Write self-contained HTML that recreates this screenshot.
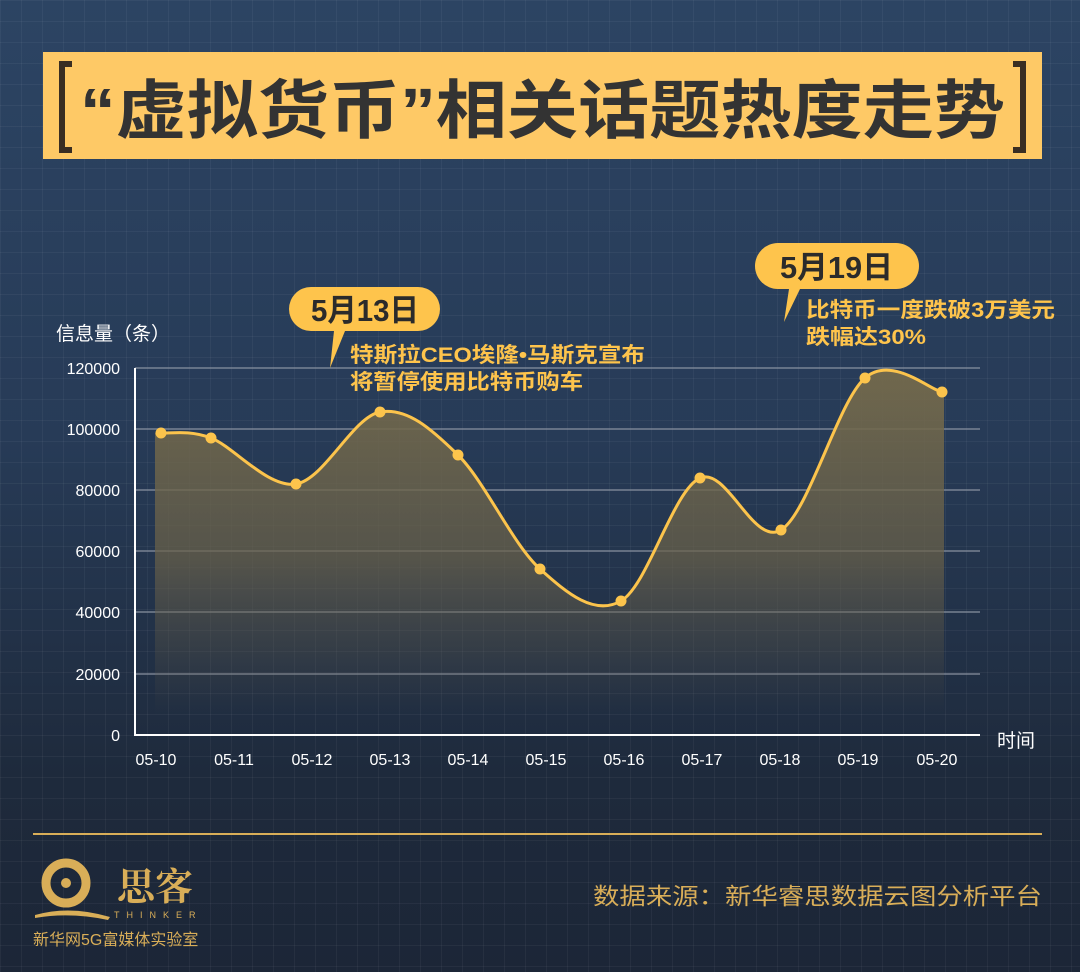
<!DOCTYPE html>
<html><head><meta charset="utf-8"><style>
body{margin:0;width:1080px;height:972px;overflow:hidden;font-family:"Liberation Sans","Noto Sans CJK SC",sans-serif;}
#bg{position:absolute;left:0;top:0;width:1080px;height:972px;background:linear-gradient(180deg,#2c4463 0%,#273b57 45%,#1e2a3c 80%,#1c2637 100%);}
#grid{position:absolute;left:0;top:0;width:1080px;height:972px;background-image:linear-gradient(rgba(255,255,255,0.045) 1px,transparent 1px),linear-gradient(90deg,rgba(255,255,255,0.045) 1px,transparent 1px);background-size:21px 21px;}
</style></head><body>
<div id="bg"></div><div id="grid"></div>
<svg width="1080" height="972" style="position:absolute;left:0;top:0" xmlns="http://www.w3.org/2000/svg">
<defs>
<linearGradient id="af" x1="0" y1="0" x2="0" y2="1">
<stop offset="0" stop-color="#746a4c" stop-opacity="0.95"/>
<stop offset="0.55" stop-color="#6a6149" stop-opacity="0.7"/>
<stop offset="1" stop-color="#5a5446" stop-opacity="0"/>
</linearGradient>
</defs>
<rect x="43" y="52" width="999" height="107" fill="#fec966"/>
<path d="M72 64 H62 V150 H72" fill="none" stroke="#3a2e22" stroke-width="6"/>
<path d="M1013 64 H1023 V150 H1013" fill="none" stroke="#3a2e22" stroke-width="6"/>
<text x="80" y="133" textLength="925" lengthAdjust="spacingAndGlyphs" font-size="64" font-weight="bold" fill="#333">“虚拟货币”相关话题热度走势</text>

<g stroke="#8d96a4" stroke-width="1.5" opacity="0.8">
<line x1="135" y1="368" x2="980" y2="368"/><line x1="135" y1="429" x2="980" y2="429"/>
<line x1="135" y1="490" x2="980" y2="490"/><line x1="135" y1="551" x2="980" y2="551"/>
<line x1="135" y1="612" x2="980" y2="612"/><line x1="135" y1="674" x2="980" y2="674"/>
</g>
<line x1="135" y1="368" x2="135" y2="736" stroke="#fff" stroke-width="2"/>
<line x1="134" y1="735" x2="980" y2="735" stroke="#fff" stroke-width="2"/>
<g font-size="16" fill="#fff" text-anchor="end">
<text x="120" y="374">120000</text><text x="120" y="435">100000</text><text x="120" y="496">80000</text>
<text x="120" y="557">60000</text><text x="120" y="618">40000</text><text x="120" y="680">20000</text><text x="120" y="741">0</text>
</g>
<text x="56" y="340" font-size="19" fill="#fff">信息量（条）</text>
<text x="997" y="747" font-size="19" fill="#fff">时间</text>
<g font-size="16" fill="#fff" text-anchor="middle">
<text x="156" y="765">05-10</text><text x="234" y="765">05-11</text><text x="312" y="765">05-12</text>
<text x="390" y="765">05-13</text><text x="468" y="765">05-14</text><text x="546" y="765">05-15</text>
<text x="624" y="765">05-16</text><text x="702" y="765">05-17</text><text x="780" y="765">05-18</text>
<text x="858" y="765">05-19</text><text x="937" y="765">05-20</text>
</g>
<path id="area" fill="url(#af)"/>
<path id="line" fill="none" stroke="#fcc44c" stroke-width="3"/>
<g id="dots" fill="#fcc44c"></g>

<path d="M311 287 H418 A22 22 0 0 1 418 331 H345 L330 368 L334 331 H311 A22 22 0 0 1 311 287Z" fill="#fec44c"/>
<text x="311" y="321" textLength="108" lengthAdjust="spacingAndGlyphs" font-size="31" font-weight="bold" fill="#2b2b2b">5月13日</text>
<text x="350" y="362" textLength="295" lengthAdjust="spacingAndGlyphs" font-size="21" font-weight="bold" fill="#fec44c">特斯拉CEO埃隆•马斯克宣布</text>
<text x="350" y="389" textLength="233" lengthAdjust="spacingAndGlyphs" font-size="21" font-weight="bold" fill="#fec44c">将暂停使用比特币购车</text>

<path d="M778 243 H896 A23 23 0 0 1 896 289 H800 L784 322 L789 289 H778 A23 23 0 0 1 778 243Z" fill="#fec44c"/>
<text x="780" y="278" textLength="113" lengthAdjust="spacingAndGlyphs" font-size="31" font-weight="bold" fill="#2b2b2b">5月19日</text>
<text x="806" y="317" textLength="249" lengthAdjust="spacingAndGlyphs" font-size="21" font-weight="bold" fill="#fec44c">比特币一度跌破3万美元</text>
<text x="806" y="344" textLength="120" lengthAdjust="spacingAndGlyphs" font-size="21" font-weight="bold" fill="#fec44c">跌幅达30%</text>

<line x1="33" y1="834" x2="1042" y2="834" stroke="#d9ae58" stroke-width="2"/>
<g fill="#d9ae58">
<circle cx="66" cy="883" r="20" fill="none" stroke="#d9ae58" stroke-width="9"/>
<circle cx="66" cy="883" r="5"/>
<path d="M35 915 Q70 905 110 917 L108 920 Q70 912 35 918Z"/>
</g>
<text x="155" y="900" text-anchor="middle" font-size="38" fill="#d9ae58" font-family="Noto Serif CJK SC,serif" font-weight="bold">思客</text>
<text x="114" y="918" font-size="9" fill="#d9ae58" letter-spacing="7">THINKER</text>
<text x="33" y="945" font-size="16" fill="#d9ae58">新华网5G富媒体实验室</text>
<text x="593" y="904" textLength="449" lengthAdjust="spacingAndGlyphs" font-size="23" fill="#d9ae58">数据来源：新华睿思数据云图分析平台</text>
</svg>
<script>
var p=[[161,433],[211,438],[296,484],[380,412],[458,455],[540,569],[621,601],[700,478],[781,530],[865,378],[942,392]];
function cr(pts){var d="M"+pts[0][0]+" "+pts[0][1];
for(var i=0;i<pts.length-1;i++){var p0=pts[i-1]||pts[i],p1=pts[i],p2=pts[i+1],p3=pts[i+2]||p2;
var c1x=p1[0]+(p2[0]-p0[0])/6,c1y=p1[1]+(p2[1]-p0[1])/6,c2x=p2[0]-(p3[0]-p1[0])/6,c2y=p2[1]-(p3[1]-p1[1])/6;
d+=" C"+c1x+" "+c1y+" "+c2x+" "+c2y+" "+p2[0]+" "+p2[1];}return d;}
var d=cr(p);
document.getElementById("line").setAttribute("d",d);
document.getElementById("area").setAttribute("d",d+" L944 392 L944 715 L155 715 L155 433 Z");
var g=document.getElementById("dots");
p.forEach(function(q){var c=document.createElementNS("http://www.w3.org/2000/svg","circle");c.setAttribute("cx",q[0]);c.setAttribute("cy",q[1]);c.setAttribute("r",5.5);g.appendChild(c);});
</script>
</body></html>
